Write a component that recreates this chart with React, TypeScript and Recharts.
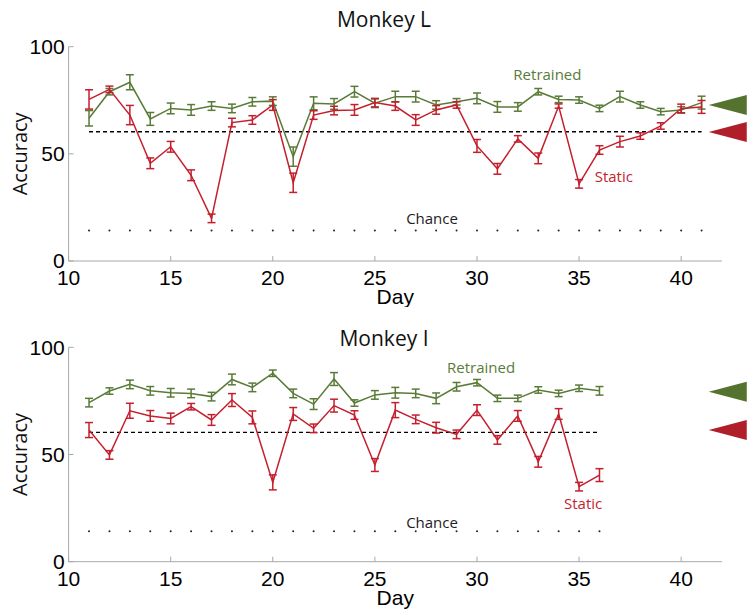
import { ErrorBar, Line, LineChart, ReferenceDot, ReferenceLine, XAxis, YAxis } from "recharts"

// Monkey L (days 11-41)
const daysL = [11, 12, 13, 14, 15, 16, 17, 18, 19, 20, 21, 22, 23, 24, 25, 26, 27, 28, 29, 30, 31, 32, 33, 34, 35, 36, 37, 38, 39, 40, 41]
const retrainedL = [66.6, 79, 83.4, 66.3, 71.2, 70.5, 72.3, 71.2, 74.3, 74.6, 48.7, 73.6, 73.3, 79, 73.6, 76.7, 76.7, 72.8, 74.3, 75.9, 71.9, 71.9, 79, 75.4, 75.1, 71.2, 76.7, 72.8, 69.7, 70.5, 73.9]
const retrainedErrL = [3.6, 1.5, 3.5, 3, 2.5, 2.5, 2, 2, 2, 2, 4.5, 3, 2.5, 2.5, 2, 2.5, 2.5, 2, 1.5, 2.5, 2.5, 2, 1.5, 1.5, 1.5, 1.5, 2.5, 1.5, 1.5, 1.5, 3]
const staticL = [75.4, 80.1, 68.1, 45.6, 53.3, 40, 19.9, 64.6, 65.8, 72.8, 36.5, 68.1, 70.2, 70.5, 73.9, 72.3, 65.8, 70.5, 72.8, 53.7, 43, 57, 47.9, 72.3, 36, 51.8, 55.7, 58.3, 63, 71.2, 71.9]
const staticErrL = [4.5, 1.5, 4.5, 2.5, 2.5, 2.5, 2, 2, 2, 2.5, 4.5, 2, 2, 2.5, 2, 2, 2.5, 2, 1.5, 3, 2.5, 1.5, 2.5, 1, 2, 2, 2.5, 1.5, 1.5, 2, 3]

// Monkey I (days 11-36)
const daysI = [11, 12, 13, 14, 15, 16, 17, 18, 19, 20, 21, 22, 23, 24, 25, 26, 27, 28, 29, 30, 31, 32, 33, 34, 35, 36]
const retrainedI = [74.2, 79.6, 82.7, 79.7, 78.8, 78.5, 77, 85, 81.3, 87.9, 78.5, 73.5, 85.2, 74, 77.8, 78.8, 78.5, 76.2, 81.6, 83.5, 76.2, 76.2, 80.1, 78.5, 80.9, 79.7]
const retrainedErrI = [2, 1.5, 2, 2, 2, 2, 2, 2.5, 2, 1.5, 2, 2.5, 3, 1.5, 2, 2.5, 2, 2.5, 2, 1.5, 1.5, 1.5, 1.5, 1.5, 1.5, 2]
const staticI = [61.4, 49.8, 70.4, 68, 66.8, 72.3, 66.1, 75.4, 67.3, 37, 68.9, 62.2, 72.8, 68.4, 45.1, 70.7, 66.4, 62.5, 59.4, 70.7, 56.8, 68, 46.6, 68.9, 35, 40.4]
const staticErrI = [3.5, 2, 3.5, 2.5, 2.5, 1.5, 2.5, 3, 3, 3.5, 3, 2, 3, 2, 3, 3.5, 2, 2.5, 2, 2.5, 2, 2.5, 2.5, 2.5, 2, 3]

const xTicks = [10, 15, 20, 25, 30, 35, 40]
const yTicks = [0, 50, 100]
const CHANCE = 14.2
const THRESHOLD = 60.3

const GREEN = "#5a7b38"
const RED = "#c41f2d"
const GREEN_TRI = "#55722f"
const RED_TRI = "#b01e2a"

const tickFont = "'Liberation Sans Narrow', 'Liberation Sans', Arial, sans-serif"
const textFont = "'Open Sans', 'Noto Sans', sans-serif"

type Panel = {
  title: string
  days: number[]
  retrained: number[]
  retrainedErr: number[]
  stat: number[]
  statErr: number[]
  triGreen: number
  triRed: number
  retrainedLabel: [number, number]
  staticLabel: [number, number]
  chanceLabel: [number, number]
}

const panels: Panel[] = [
  {
    title: "Monkey L",
    days: daysL,
    retrained: retrainedL,
    retrainedErr: retrainedErrL,
    stat: staticL,
    statErr: staticErrL,
    triGreen: 72.8,
    triRed: 60.2,
    retrainedLabel: [33.45, 86.8],
    staticLabel: [36.7, 39.2],
    chanceLabel: [27.8, 19.6],
  },
  {
    title: "Monkey I",
    days: daysI,
    retrained: retrainedI,
    retrainedErr: retrainedErrI,
    stat: staticI,
    statErr: staticErrI,
    triGreen: 79.3,
    triRed: 61.4,
    retrainedLabel: [30.2, 90.3],
    staticLabel: [35.2, 26.9],
    chanceLabel: [27.8, 18],
  },
]

const triangle = (color: string) => (p: any) => {
  const { cx, cy } = p
  return <polygon points={`${cx},${cy} ${cx + 38},${cy - 10} ${cx + 38},${cy + 10}`} fill={color} />
}

const AccuracyLabel = (p: any) => {
  const vb = p.viewBox
  const cx = vb.x + 11
  const cy = vb.y + vb.height / 2
  return (
    <text x={cx} y={cy} transform={`rotate(-90 ${cx} ${cy})`} textAnchor="middle" dominantBaseline="central"
      fontSize={20} fontFamily={textFont} fill="#111">
      Accuracy
    </text>
  )
}

const DayLabel = (p: any) => {
  const vb = p.viewBox
  return (
    <text x={vb.x + vb.width / 2} y={vb.y + 43} textAnchor="middle" fontSize={21} fontFamily={tickFont} fill="#000">
      Day
    </text>
  )
}

function PanelChart({ panel, height, margin }: { panel: Panel; height: number; margin: any }) {
  const rows = panel.days.map((d, i) => ({
    day: d,
    retrained: panel.retrained[i],
    rErr: panel.retrainedErr[i],
    stat: panel.stat[i],
    sErr: panel.statErr[i],
    chance: CHANCE,
  }))
  const first = panel.days[0]
  const last = panel.days[panel.days.length - 1]
  const note = (xy: [number, number], value: string, color: string) => (
    <ReferenceDot x={xy[0]} y={xy[1]} r={0} fill="none" stroke="none"
      label={{ value, position: "center", fill: color, fontSize: 15, fontFamily: textFont }} />
  )
  return (
    <LineChart width={754} height={height} data={rows} margin={margin}>
      <XAxis dataKey="day" type="number" domain={[10, 42]} ticks={xTicks} height={40}
        stroke="#a8a8a8" tickSize={-5} tickMargin={14}
        tick={{ fontSize: 21, fill: "#000", fontFamily: tickFont }}
        label={{ content: DayLabel }} />
      <YAxis type="number" domain={[0, 100]} ticks={yTicks} width={60}
        stroke="#a8a8a8" tickSize={-5} tickMargin={9}
        tick={{ fontSize: 21, fill: "#000", fontFamily: tickFont }}
        label={{ content: AccuracyLabel }} />
      <ReferenceLine segment={[{ x: first, y: THRESHOLD }, { x: last, y: THRESHOLD }]}
        stroke="#000" strokeWidth={1.4} strokeDasharray="4 3" />
      <Line dataKey="chance" stroke="none" isAnimationActive={false}
        dot={{ r: 1, fill: "#222", stroke: "none" }} />
      <Line dataKey="retrained" stroke={GREEN} strokeWidth={1.5} dot={false} isAnimationActive={false}>
        <ErrorBar dataKey="rErr" direction="y" width={4} stroke={GREEN} strokeWidth={1.5} />
      </Line>
      <Line dataKey="stat" stroke={RED} strokeWidth={1.5} dot={false} isAnimationActive={false}>
        <ErrorBar dataKey="sErr" direction="y" width={4} stroke={RED} strokeWidth={1.5} />
      </Line>
      <ReferenceDot x={41.35} y={panel.triGreen} r={10} ifOverflow="visible" shape={triangle(GREEN_TRI)} />
      <ReferenceDot x={41.35} y={panel.triRed} r={10} ifOverflow="visible" shape={triangle(RED_TRI)} />
      {note(panel.retrainedLabel, "Retrained", GREEN)}
      {note(panel.staticLabel, "Static", RED)}
      {note(panel.chanceLabel, "Chance", "#222")}
    </LineChart>
  )
}

const titleStyle: any = {
  position: "absolute",
  left: 284,
  width: 200,
  textAlign: "center",
  fontFamily: textFont,
  fontSize: 21,
  color: "#111",
  lineHeight: "24px",
}

export default function App() {
  return (
    <div style={{ position: "absolute", left: 0, top: 0, width: 754, height: 615, background: "#fff", overflow: "hidden" }}>
      <div style={{ position: "absolute", left: 0, top: 0 }}>
        <PanelChart panel={panels[0]} height={307} margin={{ top: 46.7, right: 32, bottom: 6, left: 8.6 }} />
      </div>
      <div style={{ position: "absolute", left: 0, top: 307 }}>
        <PanelChart panel={panels[1]} height={308} margin={{ top: 40.3, right: 32, bottom: 13.3, left: 8.6 }} />
      </div>
      <div style={{ ...titleStyle, top: 7 }}>{panels[0].title}</div>
      <div style={{ ...titleStyle, top: 326 }}>{panels[1].title}</div>
    </div>
  )
}
